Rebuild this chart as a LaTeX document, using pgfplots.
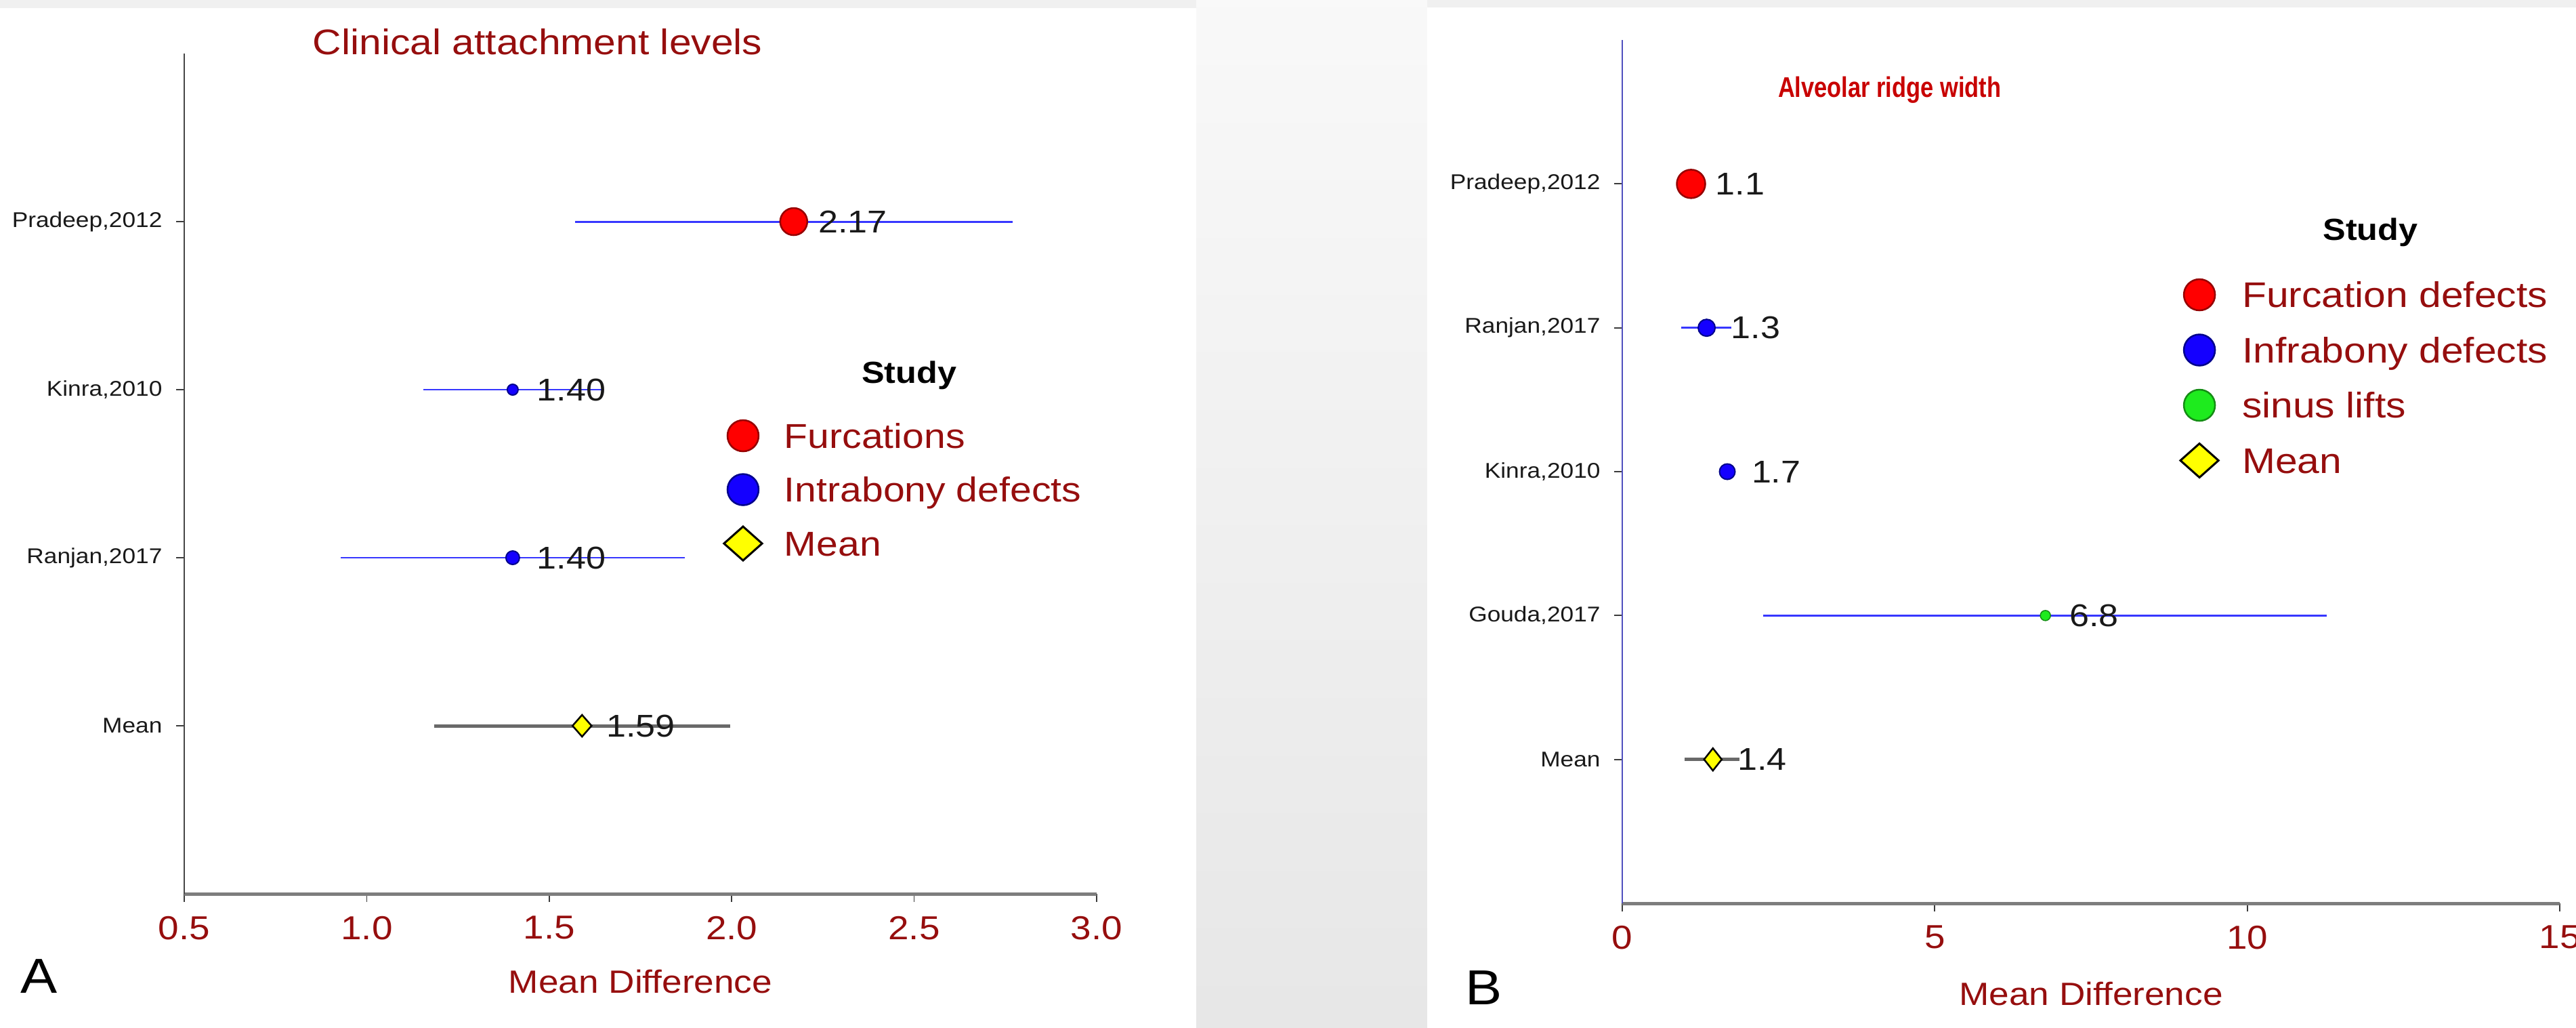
\documentclass[border=0pt]{standalone}
\usepackage{pgfplots}
\pgfplotsset{compat=1.18}
\usepackage{pgfplotstable}
\usepackage{fontspec}
\setmainfont{Liberation Sans}[FakeStretch=1.12]
\newfontfamily\narrowfont{Liberation Sans}[FakeStretch=0.82]
\newcommand{\fs}[1]{\fontsize{#1pt}{#1pt}\selectfont}

\definecolor{darkred}{RGB}{150,14,14}
\definecolor{titlered}{RGB}{200,0,0}
\definecolor{mred}{RGB}{255,0,0}
\definecolor{mredd}{RGB}{150,0,0}
\definecolor{mblue}{RGB}{20,0,255}
\definecolor{mblued}{RGB}{0,0,140}
\definecolor{mgreen}{RGB}{30,235,30}
\definecolor{mgreend}{RGB}{20,140,20}
\definecolor{myellow}{RGB}{255,255,0}
\definecolor{ciblue}{RGB}{55,55,255}
\definecolor{cigray}{RGB}{105,105,105}
\definecolor{axgray}{RGB}{125,125,125}
\definecolor{tickgray}{RGB}{60,60,60}
\definecolor{yaxA}{RGB}{70,70,70}
\definecolor{yaxB}{RGB}{80,80,190}
\definecolor{valtxt}{RGB}{25,25,25}

% ---------- Panel A data ----------
\pgfplotstableread{
x    y  em     ep     lab
2.17 4  0.600  0.600  2.17
}\APra
\pgfplotstableread{
x    y  em     ep     lab
1.40 3  0.245  0.245  1.40
}\AKin
\pgfplotstableread{
x    y  em     ep     lab
1.40 2  0.472  0.472  1.40
}\ARan
\pgfplotstableread{
x    y  em     ep     lab
1.59 1  0.405  0.405  1.59
}\AMean
% ---------- Panel B data ----------
\pgfplotstableread{
x    y  em     ep     lab
1.10 5  0.22   0.22   1.1
}\BPra
\pgfplotstableread{
x    y  em     ep     lab
1.35 4  0.41   0.40   1.3
}\BRan
\pgfplotstableread{
x    y  em     ep     lab
1.68 3  0.00   0.00   1.7
}\BKin
\pgfplotstableread{
x    y  em     ep     lab
6.77 2  4.52   4.50   6.8
}\BGou
\pgfplotstableread{
x    y  em     ep     lab
1.45 1  0.45   0.42   1.4
}\BMean

\pgfplotsset{
  forest/.style={
    scale only axis, clip=false,
    axis x line*=bottom, axis y line*=left,
    axis line style={-},
    x axis line style={draw=axgray, line width=1pt},
    tick align=outside, major tick length=2.4pt,
    tick style={draw=tickgray, line width=0.35pt},
    xticklabel shift=4pt,
    yticklabel shift=3.9pt,
    xticklabel style={font=\fs{9.8}, text=darkred, inner sep=0pt},
    yticklabel style={font=\fs{6.3}, text=valtxt, inner sep=0pt},
    every axis x label/.style={at={(axis description cs:0.5,0)}, anchor=base, inner sep=0pt, font=\fs{9.5}, text=darkred},
    legend cell align=left,
    legend image code/.code={
      \path[draw=none, fill=none] (-6pt,-5pt) rectangle (6pt,5pt);
      \draw[##1] plot coordinates {(0pt,0pt)};
    },
  },
  val/.style={nodes near coords, point meta=explicit symbolic,
    every node near coord/.append style={anchor=west, inner sep=0pt, xshift=7pt, font=\fs{9.3}, text=valtxt}},
  ci/.style={draw=none, mark=none, forget plot,
    error bars/x dir=both, error bars/x explicit, error bars/error mark=none,
    error bars/error bar style={draw=#1, line width=0.6pt}},
  cig/.style={error bars/x dir=both, error bars/x explicit, error bars/error mark=none,
    error bars/error bar style={draw=cigray, line width=1pt}},
  cib/.style={error bars/x dir=both, error bars/x explicit, error bars/error mark=none,
    error bars/error bar style={draw=ciblue, line width=0.55pt}},
}

\begin{document}
\begin{tikzpicture}
\path[use as bounding box] (0,0) rectangle (760.6pt,303.2pt);
\clip (0,0) rectangle (760.6pt,303.2pt);
\fill[gray!12] (0,0) rectangle (760.6pt,303.2pt);
\shade[top color=gray!5, bottom color=gray!19] (353.2pt,0) rectangle (421.4pt,303.2pt);
\fill[white] (0,0) rectangle (353.2pt,300.8pt);
\fill[white] (421.4pt,0) rectangle (760.6pt,301pt);

% ================= Panel A =================
\begin{axis}[forest,
  at={(54.4pt,39.4pt)}, anchor=south west,
  width=269.4pt, height=248pt,
  xmin=0.5, xmax=3.0, ymin=0, ymax=5,
  y axis line style={draw=yaxA, line width=0.45pt},
  xtick={0.5,1.0,1.5,2.0,2.5,3.0},
  xticklabels={0.5,1.0,1.5,2.0,2.5,3.0},
  ytick={1,2,3,4},
  yticklabels={Mean,{Ranjan,2017},{Kinra,2010},{Pradeep,2012}},
  xlabel={Mean Difference},
  xlabel style={yshift=-29.2pt},
  legend style={at={(axis description cs:0.5902,0.5653)}, anchor=north west,
    draw=none, fill=none, inner sep=0pt, outer sep=0pt,
    row sep=5.9pt, column sep=6.2pt, font=\fs{10.2},
    nodes={inner sep=0pt, text height=7.3pt, text depth=0pt, text=darkred}},
]
% Mean
\addplot[only marks, mark=diamond*, mark size=3.2pt, forget plot,
  mark options={fill=myellow, draw=black, line width=0.5pt, xscale=1.17},
  cig, val] table[x=x, y=y, x error minus=em, x error plus=ep, meta=lab] {\AMean};
% Ranjan
\addplot[only marks, mark=*, mark size=2pt, forget plot,
  mark options={fill=mblue, draw=mblued, line width=0.4pt},
  cib, val] table[x=x, y=y, x error minus=em, x error plus=ep, meta=lab] {\ARan};
% Kinra
\addplot[only marks, mark=*, mark size=1.6pt, forget plot,
  mark options={fill=mblue, draw=mblued, line width=0.4pt},
  cib, val] table[x=x, y=y, x error minus=em, x error plus=ep, meta=lab] {\AKin};
% Pradeep
\addplot[only marks, mark=*, mark size=4pt, forget plot,
  mark options={fill=mred, draw=mredd, line width=0.5pt},
  val] table[x=x, y=y, meta=lab] {\APra};
\addplot[ci=ciblue] table[x=x, y=y, x error minus=em, x error plus=ep] {\APra};

\addlegendimage{only marks, mark=*, mark size=4.6pt, mark options={fill=mred, draw=mredd, line width=0.5pt}}
\addlegendentry{Furcations}
\addlegendimage{only marks, mark=*, mark size=4.6pt, mark options={fill=mblue, draw=mblued, line width=0.5pt}}
\addlegendentry{Intrabony defects}
\addlegendimage{only marks, mark=diamond*, mark size=5pt, mark options={fill=myellow, draw=black, line width=0.6pt, xscale=1.5}}
\addlegendentry{Mean}

\node[anchor=base west, inner sep=0pt, font=\fs{10.5}, text=darkred]
  at (axis description cs:0.1403,0.9992) {Clinical attachment levels};
\node[anchor=base, inner sep=0pt, font=\bfseries\fs{9}, text=black]
  at (axis description cs:0.7944,0.608) {Study};
\end{axis}

% ================= Panel B =================
\begin{axis}[forest,
  at={(479pt,36.6pt)}, anchor=south west,
  width=276.8pt, height=254.8pt,
  xmin=0, xmax=15, ymin=0, ymax=6,
  y axis line style={draw=yaxB, line width=0.5pt},
  xtick={0,5,10,15},
  xticklabels={0,5,10,15},
  ytick={1,2,3,4,5},
  yticklabels={Mean,{Gouda,2017},{Kinra,2010},{Ranjan,2017},{Pradeep,2012}},
  xlabel={Mean Difference},
  xlabel style={yshift=-30pt},
  legend style={at={(axis description cs:0.594,0.7245)}, anchor=north west,
    draw=none, fill=none, inner sep=0pt, outer sep=0pt,
    row sep=6.3pt, column sep=6.6pt, font=\fs{10.5},
    nodes={inner sep=0pt, text height=7.5pt, text depth=0pt, text=darkred}},
]
% Mean
\addplot[only marks, mark=diamond*, mark size=3.3pt, forget plot,
  mark options={fill=myellow, draw=black, line width=0.5pt, xscale=1.05},
  cig, val] table[x=x, y=y, x error minus=em, x error plus=ep, meta=lab] {\BMean};
% Gouda
\addplot[only marks, mark=*, mark size=1.5pt, forget plot,
  mark options={fill=mgreen, draw=mgreend, line width=0.3pt},
  cib, val] table[x=x, y=y, x error minus=em, x error plus=ep, meta=lab] {\BGou};
% Kinra
\addplot[only marks, mark=*, mark size=2.3pt, forget plot,
  mark options={fill=mblue, draw=mblued, line width=0.4pt},
  val] table[x=x, y=y, meta=lab] {\BKin};
% Ranjan
\addplot[only marks, mark=*, mark size=2.5pt, forget plot,
  mark options={fill=mblue, draw=mblued, line width=0.4pt},
  cib, val] table[x=x, y=y, x error minus=em, x error plus=ep, meta=lab] {\BRan};
% Pradeep
\addplot[only marks, mark=*, mark size=4.2pt, forget plot,
  mark options={fill=mred, draw=mredd, line width=0.5pt},
  val] table[x=x, y=y, meta=lab] {\BPra};
\addplot[ci=ciblue] table[x=x, y=y, x error minus=em, x error plus=ep] {\BPra};

\addlegendimage{only marks, mark=*, mark size=4.6pt, mark options={fill=mred, draw=mredd, line width=0.5pt}}
\addlegendentry{Furcation defects}
\addlegendimage{only marks, mark=*, mark size=4.6pt, mark options={fill=mblue, draw=mblued, line width=0.5pt}}
\addlegendentry{Infrabony defects}
\addlegendimage{only marks, mark=*, mark size=4.6pt, mark options={fill=mgreen, draw=mgreend, line width=0.5pt}}
\addlegendentry{sinus lifts}
\addlegendimage{only marks, mark=diamond*, mark size=5pt, mark options={fill=myellow, draw=black, line width=0.6pt, xscale=1.5}}
\addlegendentry{Mean}

\node[anchor=base west, inner sep=0pt, font=\narrowfont\bfseries\fs{8.4}, text=titlered]
  at (axis description cs:0.1655,0.934) {Alveolar ridge width};
\node[anchor=base, inner sep=0pt, font=\bfseries\fs{9}, text=black]
  at (axis description cs:0.798,0.7677) {Study};
\end{axis}

\node[anchor=base west, inner sep=0pt, font=\fs{14.5}] at (5.8pt,10.2pt) {A};
\node[anchor=base west, inner sep=0pt, font=\fs{14.5}] at (432.4pt,6.8pt) {B};
\end{tikzpicture}
\end{document}
